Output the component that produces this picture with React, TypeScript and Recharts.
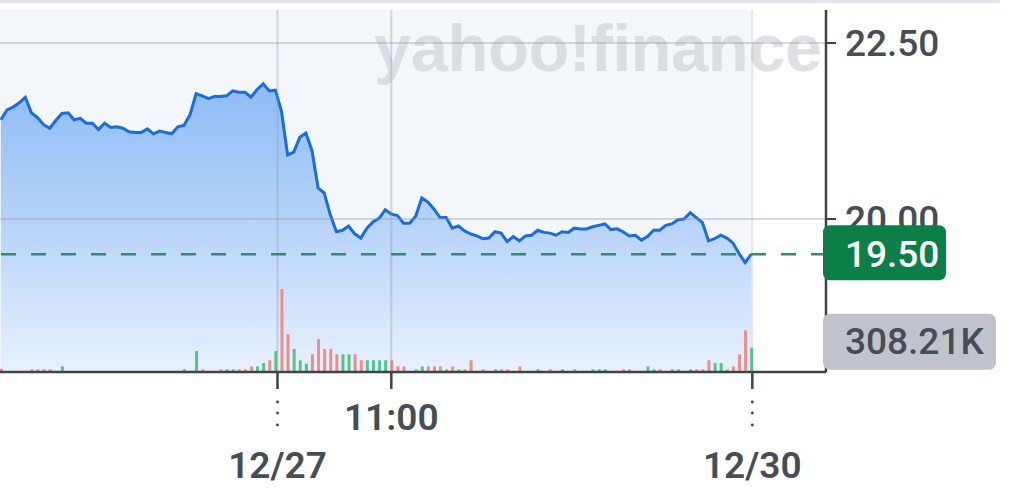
import React from "react";
import {
  ComposedChart,
  Area,
  Bar,
  Cell,
  XAxis,
  YAxis,
  ReferenceLine,
  ReferenceArea,
} from "recharts";

// 5-minute bars: indices 0..45 = 12/26 afternoon, 46..123 = 12/27 session
const price = [
  21.41, 21.55, 21.59, 21.65, 21.73, 21.51, 21.44, 21.34, 21.29, 21.4,
  21.5, 21.51, 21.41, 21.43, 21.36, 21.36, 21.27, 21.36, 21.3, 21.31,
  21.29, 21.24, 21.23, 21.23, 21.28, 21.21, 21.25, 21.23, 21.21, 21.31,
  21.33, 21.48, 21.78, 21.75, 21.71, 21.74, 21.74, 21.75, 21.82, 21.8,
  21.8, 21.73, 21.84, 21.92, 21.82, 21.83, 21.53, 20.91, 20.95, 21.16,
  21.22, 20.97, 20.44, 20.37, 20.06, 19.82, 19.84, 19.9, 19.79, 19.73,
  19.87, 19.96, 20.01, 20.13, 20.07, 20.05, 19.94, 19.94, 20.04, 20.3,
  20.24, 20.14, 20.02, 20.02, 19.87, 19.9, 19.83, 19.79, 19.76, 19.72,
  19.73, 19.82, 19.8, 19.68, 19.75, 19.69, 19.76, 19.77, 19.84, 19.81,
  19.8, 19.77, 19.82, 19.81, 19.87, 19.86, 19.86, 19.89, 19.91, 19.93,
  19.85, 19.86, 19.82, 19.76, 19.77, 19.7, 19.75, 19.84, 19.84, 19.91,
  19.93, 19.99, 20.0, 20.09, 20.02, 19.95, 19.69, 19.72, 19.77, 19.73,
  19.66, 19.51, 19.38, 19.5,
];

// volume in thousands
const volume = [
  42, 12, 12, 12, 12, 34, 34, 34, 34, 12,
  72, 12, 12, 12, 12, 12, 12, 12, 12, 12,
  12, 12, 12, 12, 12, 12, 12, 12, 12, 12,
  34, 12, 267, 34, 12, 12, 34, 34, 34, 34,
  34, 72, 72, 114, 149, 267, 1054, 483, 292, 149,
  105, 225, 419, 292, 292, 225, 225, 225, 225, 149,
  149, 149, 149, 149, 149, 72, 72, 12, 34, 72,
  72, 72, 72, 34, 72, 34, 34, 149, 12, 34,
  12, 34, 34, 34, 12, 72, 12, 12, 34, 12,
  34, 12, 34, 12, 34, 12, 12, 34, 34, 34,
  12, 12, 34, 34, 12, 12, 72, 34, 34, 12,
  34, 34, 12, 34, 34, 34, 149, 114, 114, 34,
  72, 225, 530, 308.21,
];

// bar direction ("" = tiny bar, follows price move)
const volumeDir = [
  "d", "", "", "", "", "d", "d", "d", "d", "",
  "u", "", "", "", "", "", "", "", "", "",
  "", "", "", "", "", "", "", "", "", "",
  "u", "", "u", "d", "", "", "d", "u", "u", "d",
  "d", "d", "u", "u", "d", "u", "d", "d", "u", "u",
  "u", "d", "d", "d", "d", "d", "u", "u", "d", "d",
  "u", "u", "u", "u", "d", "d", "d", "", "u", "u",
  "d", "d", "d", "u", "d", "u", "d", "d", "", "d",
  "", "u", "d", "d", "", "d", "", "", "u", "",
  "d", "", "u", "", "u", "", "", "u", "u", "u",
  "", "", "d", "d", "", "", "u", "u", "d", "",
  "u", "u", "", "u", "d", "d", "d", "u", "u", "d",
  "d", "d", "d", "u",
];

const xDomain = [-0.148, 135.26];
const xTicks = [45.34, 64, 123.18];
const xTickLabels = ["12/27", "11:00", "12/30"];
const xTickKinds = ["day", "time", "day"];
const priceDomain = [17.827, 22.969];
const priceTicks = [20, 22.5];
const volumeDomain = [0, 4600];
const lastPrice = 19.5;
const lastVolume = 308.21;
const lastVolumeLabel = "308.21K";
const watermark = "yahoo!finance";

const data = price.map((p, i) => {
  const d = volumeDir[i] || (i > 0 && p < price[i - 1] ? "d" : "u");
  return { t: i, price: p, vol: volume[i], dir: d };
});

const FONT = "Roboto, 'Liberation Sans', Arial, sans-serif";
const TEXT = "#464d55";
const AXIS = "#3d434a";

const Watermark = (props: any) => {
  const { viewBox } = props;
  return (
    <g>
      <rect x={0} y={0} width={1000} height={3} fill="#e1e4e8" />
      <text
        x={viewBox.x + 374}
        y={viewBox.y + 61}
        fontFamily="'Liberation Sans', Arial, sans-serif"
        fontWeight={700}
        fontSize={67}
        letterSpacing={-0.5}
        fill="#cdd0d4"
        fillOpacity={0.65}
      >
        {watermark}
      </text>
    </g>
  );
};

const XTick = (props: any) => {
  const { x, y, payload } = props;
  const idx = xTicks.indexOf(payload.value);
  const isDay = xTickKinds[idx] === "day";
  return (
    <g>
      <line x1={x} x2={x} y1={y} y2={y + 17} stroke={AXIS} strokeWidth={2.5} />
      {isDay &&
        [30, 41, 53].map((d) => (
          <circle key={d} cx={x} cy={y + d} r={1.4} fill={AXIS} />
        ))}
      <text
        x={x}
        y={isDay ? y + 93 : y + 45}
        textAnchor="middle"
        dominantBaseline="central"
        fontFamily={FONT}
        fontWeight={600}
        fontSize={37}
        fill={TEXT}
      >
        {xTickLabels[idx]}
      </text>
    </g>
  );
};

const YTick = (props: any) => {
  const { x, y, payload } = props;
  return (
    <g>
      <line x1={x} x2={x + 10} y1={y} y2={y} stroke={AXIS} strokeWidth={2} />
      <text
        x={x + 19}
        y={y}
        dominantBaseline="central"
        fontFamily={FONT}
        fontWeight={500}
        fontSize={37}
        fill={TEXT}
      >
        {payload.value.toFixed(2)}
      </text>
    </g>
  );
};

const PriceLabel = (props: any) => {
  const { viewBox } = props;
  const bx = viewBox.x + viewBox.width - 3;
  const cy = viewBox.y;
  return (
    <g>
      <rect x={bx} y={cy - 29} width={123} height={55} rx={7} fill="#0b7f46" />
      <text
        x={bx + 22}
        y={cy}
        dominantBaseline="central"
        fontFamily={FONT}
        fontWeight={500}
        fontSize={37}
        fill="#ffffff"
      >
        {lastPrice.toFixed(2)}
      </text>
    </g>
  );
};

const VolumeLabel = (props: any) => {
  const { viewBox } = props;
  const bx = viewBox.x + viewBox.width - 3;
  const cy = viewBox.y - 6;
  return (
    <g>
      <rect x={bx} y={cy - 28} width={173} height={56} rx={7} fill="#c0c4ca" />
      <text
        x={bx + 22}
        y={cy}
        dominantBaseline="central"
        fontFamily={FONT}
        fontWeight={500}
        fontSize={37}
        fill={TEXT}
      >
        {lastVolumeLabel}
      </text>
    </g>
  );
};

export default function App() {
  return (
    <div style={{ position: "absolute", left: 0, top: 0, width: 1024, height: 496, background: "#fff" }}>
      <ComposedChart
        width={1024}
        height={496}
        data={data}
        margin={{ top: 10, right: 0, bottom: 0, left: 0 }}
      >
        <defs>
          <linearGradient id="areaGrad" x1="0" y1="0" x2="0" y2="1">
            <stop offset="0%" stopColor="#8dbbf6" stopOpacity={1} />
            <stop offset="55%" stopColor="#bcd7f9" stopOpacity={1} />
            <stop offset="100%" stopColor="#e8f1fc" stopOpacity={1} />
          </linearGradient>
        </defs>
        <XAxis
          dataKey="t"
          type="number"
          domain={xDomain}
          allowDataOverflow
          ticks={xTicks}
          interval={0}
          height={124}
          tickLine={false}
          tickSize={0}
          tickMargin={0}
          tick={<XTick />}
          axisLine={{ stroke: AXIS, strokeWidth: 2.5 }}
        />
        <YAxis
          yAxisId="price"
          orientation="right"
          type="number"
          domain={priceDomain}
          allowDataOverflow
          ticks={priceTicks}
          width={198}
          tickLine={false}
          tickSize={0}
          tickMargin={0}
          tick={<YTick />}
          axisLine={{ stroke: AXIS, strokeWidth: 2.5 }}
        />
        <YAxis yAxisId="vol" hide type="number" domain={volumeDomain} allowDataOverflow />
        <ReferenceArea
          yAxisId="price"
          x1={xDomain[0]}
          x2={xTicks[2]}
          y1={priceDomain[0]}
          y2={priceDomain[1]}
          fill="#f3f6fa"
          fillOpacity={1}
          stroke="none"
          ifOverflow="visible"
          label={<Watermark />}
        />
        <Area
          yAxisId="price"
          type="linear"
          dataKey="price"
          stroke="#1a6ce2"
          strokeWidth={3}
          fill="url(#areaGrad)"
          fillOpacity={1}
          isAnimationActive={false}
          dot={false}
          activeDot={false}
        />
        {priceTicks.map((v) => (
          <ReferenceLine
            key={"h" + v}
            yAxisId="price"
            y={v}
            stroke="#8f99a4"
            strokeOpacity={0.35}
            strokeWidth={2}
          />
        ))}
        <ReferenceLine yAxisId="price" x={xTicks[0]} stroke="#8f99a4" strokeOpacity={0.35} strokeWidth={2} />
        <ReferenceLine yAxisId="price" x={xTicks[1]} stroke="#8f99a4" strokeOpacity={0.35} strokeWidth={2} />
        <ReferenceLine yAxisId="price" x={xTicks[2]} stroke="#8f99a4" strokeOpacity={0.2} strokeWidth={2} />
        <Bar yAxisId="vol" dataKey="vol" barSize={3} isAnimationActive={false}>
          {data.map((d, i) => (
            <Cell key={i} fill={d.dir === "d" ? "#ee8e8b" : "#56c38e"} />
          ))}
        </Bar>
        <ReferenceLine
          yAxisId="price"
          y={lastPrice}
          stroke="#358a74"
          strokeWidth={2.5}
          strokeDasharray="15 15"
          zIndex={2500}
          label={<PriceLabel />}
        />
        <ReferenceLine
          yAxisId="vol"
          y={lastVolume}
          stroke="none"
          zIndex={2500}
          label={<VolumeLabel />}
        />
      </ComposedChart>
    </div>
  );
}
